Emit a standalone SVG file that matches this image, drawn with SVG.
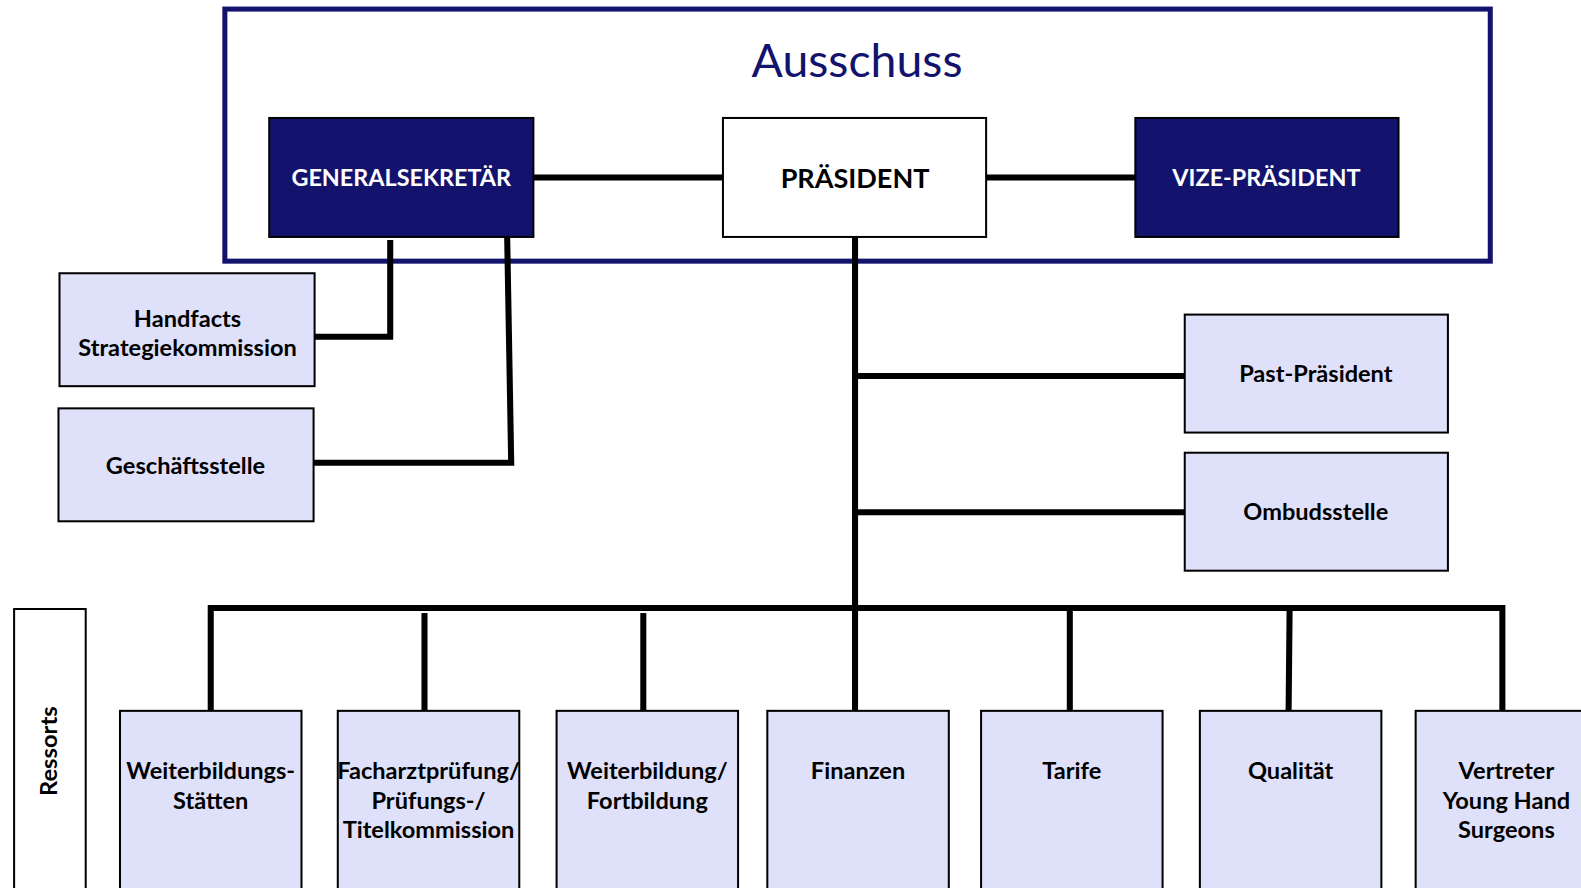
<svg xmlns="http://www.w3.org/2000/svg" width="1581" height="888" viewBox="0 0 1581 888">
<style>
text{font-family:Lato,"Open Sans","Liberation Sans",sans-serif;font-weight:bold;text-anchor:middle}
.box{fill:#DFE0FA;stroke:#000;stroke-width:2}
.navy{fill:#13136E;stroke:#000;stroke-width:2}
.white{fill:#fff;stroke:#000;stroke-width:2}
.t{font-size:23.4px;fill:#000}
.tw{font-size:23.2px;fill:#fff}
.c{stroke:#000;stroke-width:6;fill:none}
</style>
<rect width="1581" height="888" fill="#fff"/>
<g transform="scale(1.0083)">
<g id="ausschuss">
<rect x="223" y="9" width="1255" height="250" fill="none" stroke="#13136E" stroke-width="5"/>
<text x="850" y="76" style="font-size:46px;font-weight:normal;fill:#13136E">Ausschuss</text>
</g>
<g id="connectors">
<line class="c" x1="529" y1="176" x2="717" y2="176"/>
<line class="c" x1="978" y1="176" x2="1126" y2="176"/>
<line class="c" x1="848" y1="235" x2="848" y2="606"/>
<polyline class="c" points="387,238 387,334 312,334"/>
<polyline class="c" points="503,235 507,459 311,459"/>
<line class="c" x1="845" y1="373" x2="1175" y2="373"/>
<line class="c" x1="845" y1="508" x2="1175" y2="508"/>
<polyline class="c" points="209,705 209,603 1490,603 1490,705"/>
<line class="c" x1="421" y1="608" x2="421" y2="705"/>
<line class="c" x1="638" y1="608" x2="638" y2="705"/>
<line class="c" x1="848" y1="603" x2="848" y2="705"/>
<line class="c" x1="1061" y1="603" x2="1061" y2="705"/>
<line class="c" x1="1279" y1="603" x2="1278" y2="705"/>
</g>
<g id="generalsekretaer"><rect class="navy" x="267" y="117" width="262" height="118"/><text class="tw" x="398" y="184">GENERALSEKRETÄR</text></g>
<g id="praesident"><rect class="white" x="717" y="117" width="261" height="118"/><text class="t" x="848" y="186" style="font-size:26.8px">PRÄSIDENT</text></g>
<g id="vizepraesident"><rect class="navy" x="1126" y="117" width="261" height="118"/><text class="tw" x="1256" y="184">VIZE-PRÄSIDENT</text></g>
<g id="handfacts"><rect class="box" x="59" y="271" width="253" height="112"/><text class="t" x="186" y="324">Handfacts</text><text class="t" x="186" y="353">Strategiekommission</text></g>
<g id="geschaeftsstelle"><rect class="box" x="58" y="405" width="253" height="112"/><text class="t" x="184" y="470">Geschäftsstelle</text></g>
<g id="pastpraesident"><rect class="box" x="1175" y="312" width="261" height="117"/><text class="t" x="1305" y="379">Past-Präsident</text></g>
<g id="ombudsstelle"><rect class="box" x="1175" y="449" width="261" height="117"/><text class="t" x="1305" y="516">Ombudsstelle</text></g>
<g id="ressorts"><rect class="white" x="14" y="604" width="71" height="290"/><text class="t" transform="translate(57,745) rotate(-90)" style="font-size:23.5px">Ressorts</text></g>
<g id="weiterbildungsstaetten"><rect class="box" x="119" y="705" width="180" height="190"/><text class="t" x="209" y="773">Weiterbildungs-</text><text class="t" x="209" y="802">Stätten</text></g>
<g id="facharztpruefung"><rect class="box" x="335" y="705" width="180" height="190"/><text class="t" x="425" y="773">Facharztprüfung/</text><text class="t" x="425" y="802">Prüfungs-/</text><text class="t" x="425" y="831">Titelkommission</text></g>
<g id="weiterbildung"><rect class="box" x="552" y="705" width="180" height="190"/><text class="t" x="642" y="773">Weiterbildung/</text><text class="t" x="642" y="802">Fortbildung</text></g>
<g id="finanzen"><rect class="box" x="761" y="705" width="180" height="190"/><text class="t" x="851" y="773">Finanzen</text></g>
<g id="tarife"><rect class="box" x="973" y="705" width="180" height="190"/><text class="t" x="1063" y="773">Tarife</text></g>
<g id="qualitaet"><rect class="box" x="1190" y="705" width="180" height="190"/><text class="t" x="1280" y="773">Qualität</text></g>
<g id="vertreter"><rect class="box" x="1404" y="705" width="180" height="190"/><text class="t" x="1494" y="773">Vertreter</text><text class="t" x="1494" y="802">Young Hand</text><text class="t" x="1494" y="831">Surgeons</text></g>
</g>
</svg>
